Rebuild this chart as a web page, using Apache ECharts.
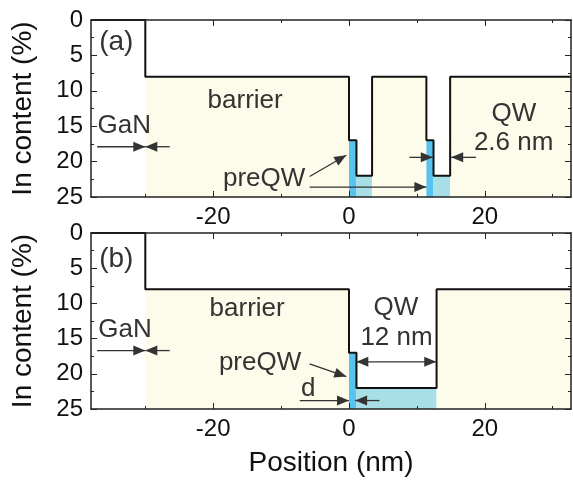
<!DOCTYPE html>
<html>
<head>
<meta charset="utf-8">
<script src="https://cdn.jsdelivr.net/npm/echarts@6/dist/echarts.min.js"></script>
<style>
  html, body { margin: 0; padding: 0; background: #fff; }
  #chart { width: 573px; height: 484px; }
</style>
</head>
<body>
<div id="chart"></div>
<script>
// layer boundaries (nm) and In content (%) of each layer
const aEdges = [-38, -30, 0, 1.1, 3.4, 11.4, 12.45, 14.9, 32.7];
const aLevels = [0, 8, 17, 22, 8, 17, 22, 8];
const aLayers = ['GaN', 'barrier', 'preQW', 'QW', 'barrier', 'preQW', 'QW', 'barrier'];

const bEdges = [-38, -30, 0, 1.1, 12.9, 32.7];
const bLevels = [0, 8, 17, 22, 8];
const bLayers = ['GaN', 'barrier', 'preQW', 'QW', 'barrier'];

const xTicks = [-20, 0, 20];
const xMinorTicks = [-30, -10, 10, 30];
const xMin = -38, xMax = 32.7;
const yMin = 0, yMax = 25;

const FONT = '"Liberation Sans", Arial, sans-serif';
const layerColor = { GaN: null, barrier: '#fdfbea', preQW: '#56c4ef', QW: '#a8dfe6' };
const ink = '#222';
const noteInk = '#333';

// annotations, in data coordinates
const notes = [
  [
    { t: '(a)', x: -36.8, y: 3.2, size: 28, align: 'left' },
    { t: 'barrier', x: -15.3, y: 11.4 },
    { t: 'GaN', x: -33.1, y: 14.9 },
    { t: 'preQW', x: -12.5, y: 22.4 },
    { t: 'QW', x: 24.3, y: 13.2 },
    { t: '2.6 nm', x: 24.25, y: 17.3 }
  ],
  [
    { t: '(b)', x: -36.8, y: 3.8, size: 28, align: 'left' },
    { t: 'barrier', x: -15.0, y: 10.8 },
    { t: 'GaN', x: -33.0, y: 13.8 },
    { t: 'preQW', x: -13.1, y: 18.5 },
    { t: 'd', x: -6.0, y: 22.1 },
    { t: 'QW', x: 6.9, y: 10.7 },
    { t: '12 nm', x: 7.0, y: 14.9 }
  ]
];
const arrows = [
  [
    { x1: -37.1, y1: 17.9, x2: -30, y2: 17.9 },
    { x1: -26.4, y1: 17.9, x2: -30, y2: 17.9 },
    { x1: -5.8, y1: 22.1, x2: -0.4, y2: 19.1 },
    { x1: -5.8, y1: 23.6, x2: 11.4, y2: 23.6 },
    { x1: 8.9, y1: 19.4, x2: 12.35, y2: 19.4 },
    { x1: 18.7, y1: 19.4, x2: 15.05, y2: 19.4 }
  ],
  [
    { x1: -37.1, y1: 16.7, x2: -30, y2: 16.7 },
    { x1: -26.4, y1: 16.7, x2: -30, y2: 16.7 },
    { x1: -5.8, y1: 18.6, x2: -0.4, y2: 20.4 },
    { x1: -7.25, y1: 23.8, x2: 0, y2: 23.8 },
    { x1: 4.5, y1: 23.8, x2: 0.9, y2: 23.8 },
    { x1: 1.08, y1: 18.3, x2: 12.85, y2: 18.3, both: true }
  ]
];

function profile(edges, levels) {
  const pts = [];
  levels.forEach((lv, i) => {
    pts.push([edges[i], lv], [edges[i + 1], lv]);
  });
  return pts;
}

function head(tip, from) {
  const dx = tip[0] - from[0], dy = tip[1] - from[1];
  const len = Math.hypot(dx, dy) || 1;
  const ux = dx / len, uy = dy / len;
  const L = 12, W = 5;
  const bx = tip[0] - ux * L, by = tip[1] - uy * L;
  return {
    type: 'polygon',
    shape: { points: [tip, [bx - uy * W, by + ux * W], [bx + uy * W, by - ux * W]] },
    style: { fill: noteInk }
  };
}

function buildGrid(g, edges, levels, layers) {
  const xi = g * 4, yi = g * 2;
  const fills = {
    type: 'custom',
    xAxisIndex: xi, yAxisIndex: yi,
    z: 1, silent: true,
    data: levels.map((lv, i) => [edges[i], lv]),
    renderItem: (params, api) => {
      const i = params.dataIndex;
      const color = layerColor[layers[i]];
      if (!color) return null;
      const p0 = api.coord([edges[i], levels[i]]);
      const p1 = api.coord([edges[i + 1], yMax]);
      return {
        type: 'rect',
        shape: { x: p0[0], y: p0[1], width: p1[0] - p0[0], height: p1[1] - p0[1] },
        style: { fill: color }
      };
    }
  };
  const line = {
    type: 'line',
    xAxisIndex: xi, yAxisIndex: yi,
    z: 5, silent: true,
    showSymbol: false,
    data: profile(edges, levels),
    lineStyle: { color: '#111', width: 2 }
  };
  const arr = arrows[g];
  const arrowSeries = {
    type: 'custom',
    xAxisIndex: xi, yAxisIndex: yi,
    z: 6, silent: true, clip: false,
    data: arr.map(a => [a.x1, a.y1]),
    renderItem: (params, api) => {
      const a = arr[params.dataIndex];
      const p1 = api.coord([a.x1, a.y1]);
      const p2 = api.coord([a.x2, a.y2]);
      const children = [
        { type: 'line', shape: { x1: p1[0], y1: p1[1], x2: p2[0], y2: p2[1] },
          style: { stroke: noteInk, lineWidth: 1.3 } },
        head(p2, p1)
      ];
      if (a.both) children.push(head(p1, p2));
      return { type: 'group', children };
    }
  };
  const txt = notes[g];
  const textSeries = {
    type: 'custom',
    xAxisIndex: xi, yAxisIndex: yi,
    z: 7, silent: true, clip: false,
    data: txt.map(n => [n.x, n.y]),
    renderItem: (params, api) => {
      const n = txt[params.dataIndex];
      const p = api.coord([n.x, n.y]);
      return {
        type: 'text', x: p[0], y: p[1],
        style: {
          text: n.t, fill: noteInk,
          fontSize: n.size || 26, fontFamily: FONT,
          align: n.align || 'center', verticalAlign: 'middle'
        }
      };
    }
  };
  return [fills, line, arrowSeries, textSeries];
}

function xAxes(g) {
  const base = {
    type: 'value', gridIndex: g, min: xMin, max: xMax, z: 10,
    splitLine: { show: false }
  };
  const frame = { show: true, onZero: false, lineStyle: { color: ink, width: 1.5 } };
  const bottom = Object.assign({}, base, {
    position: 'bottom',
    axisLine: frame,
    axisTick: { show: true, inside: true, length: 6, customValues: xTicks, lineStyle: { color: ink } },
    axisLabel: { show: true, customValues: xTicks, fontSize: 24, color: '#111', margin: 8, fontFamily: FONT }
  });
  if (g === 1) {
    Object.assign(bottom, {
      name: 'Position (nm)', nameLocation: 'middle', nameGap: 40,
      nameTextStyle: { fontSize: 28, color: '#111', fontFamily: FONT }
    });
  }
  const minor = pos => Object.assign({}, base, {
    position: pos,
    axisLine: { show: false, onZero: false },
    axisTick: { show: true, inside: true, length: 3, customValues: xMinorTicks, lineStyle: { color: ink } },
    axisLabel: { show: false }
  });
  const top = Object.assign({}, base, {
    position: 'top',
    axisLine: frame,
    axisTick: { show: true, inside: true, length: 6, customValues: xTicks, lineStyle: { color: ink } },
    axisLabel: { show: false }
  });
  return [bottom, minor('bottom'), top, minor('top')];
}

function yAxes(g) {
  const base = {
    type: 'value', gridIndex: g, inverse: true, min: yMin, max: yMax, interval: 5, z: 10,
    splitLine: { show: false },
    axisLine: { show: true, onZero: false, lineStyle: { color: ink, width: 1.5 } },
    axisTick: { show: true, inside: true, length: 6, lineStyle: { color: ink } },
    minorTick: { show: true, splitNumber: 2, length: 3, lineStyle: { color: ink } }
  };
  const left = Object.assign({}, base, {
    position: 'left',
    axisLabel: { show: true, fontSize: 24, color: '#111', margin: 8, fontFamily: FONT },
    name: 'In content (%)', nameLocation: 'middle', nameGap: 54,
    nameTextStyle: { fontSize: 28, color: '#111', fontFamily: FONT }
  });
  const right = Object.assign({}, base, {
    position: 'right',
    axisLabel: { show: false }
  });
  return [left, right];
}

const chart = echarts.init(document.getElementById('chart'));
chart.setOption({
  animation: false,
  backgroundColor: '#fff',
  textStyle: { fontFamily: FONT },
  grid: [
    { left: 91, top: 20, width: 480, height: 177 },
    { left: 91, top: 233, width: 480, height: 176 }
  ],
  xAxis: [...xAxes(0), ...xAxes(1)],
  yAxis: [...yAxes(0), ...yAxes(1)],
  series: [
    ...buildGrid(0, aEdges, aLevels, aLayers),
    ...buildGrid(1, bEdges, bLevels, bLayers)
  ]
});
</script>
</body>
</html>
